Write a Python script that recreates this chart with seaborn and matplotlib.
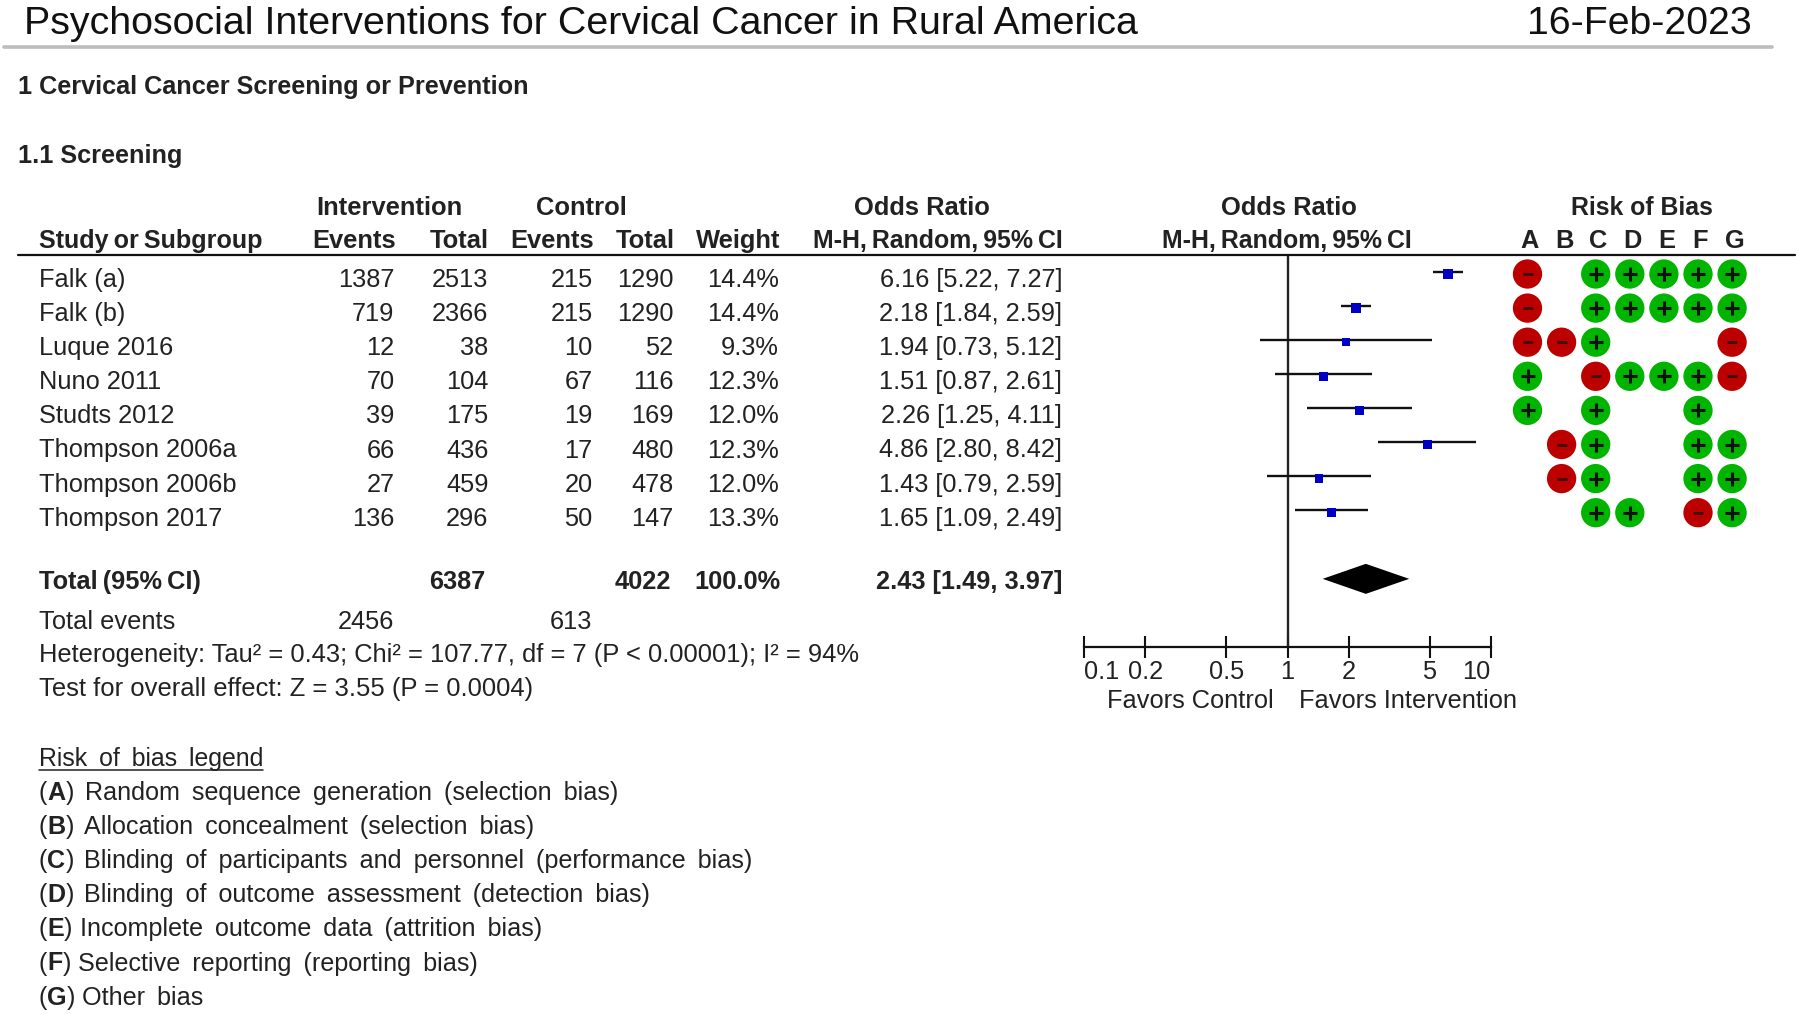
import matplotlib
matplotlib.use("Agg")
import matplotlib.pyplot as plt
import seaborn as sns
import pandas as pd

studies = ["Falk (a)", "Falk (b)", "Luque 2016", "Nuno 2011", "Studts 2012",
           "Thompson 2006a", "Thompson 2006b", "Thompson 2017"]
int_events = [1387, 719, 12, 70, 39, 66, 27, 136]
int_total = [2513, 2366, 38, 104, 175, 436, 459, 296]
ctl_events = [215, 215, 10, 67, 19, 17, 20, 50]
ctl_total = [1290, 1290, 52, 116, 169, 480, 478, 147]
weights = [14.4, 14.4, 9.3, 12.3, 12.0, 12.3, 12.0, 13.3]
odds = [6.16, 2.18, 1.94, 1.51, 2.26, 4.86, 1.43, 1.65]
ci_low = [5.22, 1.84, 0.73, 0.87, 1.25, 2.80, 0.79, 1.09]
ci_high = [7.27, 2.59, 5.12, 2.61, 4.11, 8.42, 2.59, 2.49]
total_or, total_low, total_high = 2.43, 1.49, 3.97
tick_vals = [0.1, 0.2, 0.5, 1, 2, 5, 10]
tick_labels = ["0.1", "0.2", "0.5", "1", "2", "5", "10"]
bias_cols = ["A", "B", "C", "D", "E", "F", "G"]
bias_rows = ["-.+++++", "-.+++++", "--+...-", "+.-+++-", "+.+..+.", ".-+..++", ".-+..++", "..++.-+"]
legend_items = [("A", "Random sequence generation (selection bias)"),
                ("B", "Allocation concealment (selection bias)"),
                ("C", "Blinding of participants and personnel (performance bias)"),
                ("D", "Blinding of outcome assessment (detection bias)"),
                ("E", "Incomplete outcome data (attrition bias)"),
                ("F", "Selective reporting (reporting bias)"),
                ("G", "Other bias")]
legend_text_x = [85, 84, 84, 84, 80.4, 78, 81.5]

sns.set_theme(style="white")
plt.rcParams["font.family"] = ["Liberation Sans", "DejaVu Sans"]
INK = "#222222"
W, H = 1800, 1015
ROW0, STEP = 274.0, 34.1
THIN = "\u2009"
WIDE = " " + THIN

fig = plt.figure(figsize=(W / 100, H / 100), dpi=100, facecolor="white")


def axes_px(x0, y0, x1, y1, **kw):
    return fig.add_axes([x0 / W, 1 - y1 / H, (x1 - x0) / W, (y1 - y0) / H], **kw)


page = axes_px(0, 0, W, H)
page.set_xlim(0, W)
page.set_ylim(H, 0)
page.axis("off")


def T(x, y, s, ha="left", bold=False, size=18.3, color=INK):
    return page.text(x, y, s, ha=ha, va="baseline", fontsize=size, color=color,
                     fontweight="bold" if bold else "normal")


# Title band
T(24, 34, "Psychosocial Interventions for Cervical Cancer in Rural America", size=28.4, color="#111111")
T(1752, 34, "16-Feb-2023", ha="right", size=28.3, color="#111111")
page.plot([4, 1772], [47, 47], color="#bdbdbd", lw=2.6)
T(18, 93.5, "1 Cervical Cancer Screening or Prevention", bold=True, size=18.15)
T(18, 162.5, "1.1 Screening", bold=True, size=18.15)

# Column headers
HB = 18.4
T(389, 214.5, "Intervention", ha="center", bold=True, size=HB)
T(581, 214.5, "Control", ha="center", bold=True, size=HB)
T(922, 214.5, "Odds Ratio", ha="center", bold=True, size=HB)
T(1289, 214.5, "Odds Ratio", ha="center", bold=True, size=HB)
T(1642, 214.5, "Risk of Bias", ha="center", bold=True, size=17.9)
T(39, 248, f"Study{THIN}or{THIN}Subgroup", bold=True, size=18.1)
T(396, 248, "Events", ha="right", bold=True, size=HB)
T(489, 248, "Total", ha="right", bold=True, size=HB)
T(594, 248, "Events", ha="right", bold=True, size=HB)
T(675, 248, "Total", ha="right", bold=True, size=HB)
T(780, 248, "Weight", ha="right", bold=True, size=HB)
mh = f"M-H,{THIN}Random,{THIN}95%{THIN}CI"
T(1063, 248, mh, ha="right", bold=True, size=17.9)
T(1287, 248, mh, ha="center", bold=True, size=17.9)
for i, c in enumerate(bias_cols):
    T(1530 + 34.1 * i, 248, c, ha="center", bold=True)
page.plot([18, 1795], [254.7, 254.7], color="#111111", lw=1.6)

# Study rows
for i, name in enumerate(studies):
    y = 287 + STEP * i
    T(39, y, name)
    T(394.5, y, str(int_events[i]), ha="right")
    T(488.5, y, str(int_total[i]), ha="right")
    T(592.5, y, str(ctl_events[i]), ha="right")
    T(673.5, y, str(ctl_total[i]), ha="right")
    T(779, y, f"{weights[i]:.1f}%", ha="right")
    T(1062, y, f"{odds[i]:.2f} [{ci_low[i]:.2f}, {ci_high[i]:.2f}]", ha="right")

# Totals
T(39, 589, f"Total{THIN}(95%{THIN}CI)", bold=True)
T(485, 589, str(sum(int_total)), ha="right", bold=True)
T(671, 589, str(sum(ctl_total)), ha="right", bold=True)
T(781, 589, "100.0%", ha="right", bold=True)
T(1062, 589, f"{total_or:.2f} [{total_low:.2f}, {total_high:.2f}]", ha="right", bold=True)
T(39, 629, "Total events")
T(394.5, 629, str(sum(int_events)), ha="right")
T(592.5, 629, str(sum(ctl_events)), ha="right")
T(39, 662, "Heterogeneity: Tau² = 0.43; Chi² = 107.77, df = 7 (P < 0.00001); I² = 94%", size=18.4)
T(39, 696, "Test for overall effect: Z = 3.55 (P = 0.0004)", size=18.45)

# Forest plot on a true log axis
fx = axes_px(1084.3, 256, 1490.7, 647)
fx.patch.set_alpha(0)
fx.set_xscale("log")
fx.set_xlim(0.1, 10)
fx.set_ylim((647 - ROW0) / STEP, (256 - ROW0) / STEP)
df = pd.DataFrame({"or": odds, "low": ci_low, "high": ci_high, "w": weights,
                   "row": list(range(len(odds)))})
fx.axvline(1, color="#222222", lw=1.7, zorder=1)
fx.hlines(df["row"] - 0.07, df["low"], df["high"], color="#111111", lw=1.7, zorder=2)
sns.scatterplot(data=df, x="or", y="row", size="w", sizes=(30, 50), size_norm=(9.3, 14.4),
                marker="s", color="#0000C4", edgecolor="none", legend=False, ax=fx, zorder=3)
fx.fill([total_low, total_or, total_high, total_or], [8.94, 8.94 - 0.44, 8.94, 8.94 + 0.44],
        color="black", lw=0, zorder=3)
fx.set_xlabel("")
fx.set_ylabel("")
fx.set_yticks([])
fx.set_xticks(tick_vals)
fx.set_xticklabels(tick_labels)
fx.minorticks_off()
fx.tick_params(axis="x", which="major", direction="inout", length=16, width=1.5, color="#111111",
               labelsize=18.3, labelcolor=INK, pad=1.6, bottom=True)
labs = fx.get_xticklabels()
labs[0].set_ha("left")
labs[-1].set_ha("right")
for s in ["top", "left", "right"]:
    fx.spines[s].set_visible(False)
fx.spines["bottom"].set_color("#111111")
fx.spines["bottom"].set_linewidth(1.6)
T(1107, 708, "Favors Control")
T(1299, 708, "Favors Intervention")

# Risk of bias grid
rx = axes_px(1500, 256, 1760, 540)
rx.patch.set_alpha(0)
rx.set_xlim((1500 - 1527.5) / 34.1, (1760 - 1527.5) / 34.1)
rx.set_ylim((540 - ROW0) / STEP, (256 - ROW0) / STEP)
rx.axis("off")
cells = [{"col": j, "row": i, "judge": ch}
         for i, line in enumerate(bias_rows) for j, ch in enumerate(line) if ch != "."]
bias = pd.DataFrame(cells)
sns.scatterplot(data=bias, x="col", y="row", hue="judge", palette={"+": "#00B400", "-": "#BC0000"},
                s=445, marker="o", edgecolor="none", legend=False, ax=rx, zorder=2, clip_on=False)
plus = bias[bias.judge == "+"]
minus = bias[bias.judge == "-"]
rx.scatter(plus["col"], plus["row"], marker="+", s=95, color="#111111", linewidths=2.2, zorder=3)
rx.scatter(minus["col"], minus["row"], marker="_", s=50, color="#3a1010", linewidths=2.0, zorder=3)
rx.set_xlabel("")
rx.set_ylabel("")

# Risk of bias legend
head = T(39, 766, WIDE.join(["Risk", "of", "bias", "legend"]), size=17.9)
fig.canvas.draw()
rend = fig.canvas.get_renderer()
inv = page.transData.inverted()


def right_edge(t):
    bb = t.get_window_extent(rend)
    return inv.transform((bb.x1, bb.y0))[0]


page.plot([39, right_edge(head)], [770, 770], color=INK, lw=1.1)
for i, (key, desc) in enumerate(legend_items):
    y = 800 + STEP * i
    a = T(39, y, "(", size=18.1)
    b = T(right_edge(a), y, key, bold=True, size=18.1)
    T(right_edge(b), y, ")", size=18.1)
    T(legend_text_x[i], y, desc.replace(" ", WIDE), size=18.1)

fig.savefig("out.png", dpi=100, facecolor="white")
